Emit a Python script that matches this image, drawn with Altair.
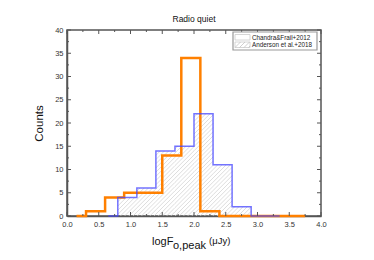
import altair as alt
import pandas as pd
import numpy as np

# ---- data ----
blue_edges = [0.65, 0.8, 1.1, 1.4, 1.7, 2.0, 2.3, 2.6, 2.9, 3.35]
blue_counts = [0, 4, 6, 14, 15, 22, 11, 2, 0]
orange_edges = [0.15, 0.3, 0.6, 0.9, 1.2, 1.5, 1.8, 2.1, 2.4, 2.7, 3.0, 3.3, 3.75]
orange_counts = [0, 1, 4, 5, 5, 13, 34, 1, 0, 0, 0, 0]
x_major = [0.0, 0.5, 1.0, 1.5, 2.0, 2.5, 3.0, 3.5, 4.0]
x_minor = [0.25, 0.75, 1.25, 1.75, 2.25, 2.75, 3.25, 3.75]
y_major = [0, 5, 10, 15, 20, 25, 30, 35, 40]
y_minor = [2.5, 7.5, 12.5, 17.5, 22.5, 27.5, 32.5, 37.5]
legend_labels = ["Chandra&Frail+2012", "Anderson et al.+2018"]

W, H = 254, 186
XMAX, YMAX = 4.0, 40.0
pxx = W / XMAX
pxy = H / YMAX

def step_df(edges, counts):
    return pd.DataFrame({"x": edges, "y": list(counts) + [counts[-1]]})

blue_df = step_df(blue_edges, blue_counts)
orange_df = step_df(orange_edges, orange_counts)

# hatch segments derived from blue histogram
segs = []
spacing = 4.2
cmin = -H
cmax = W + H
for i, h in enumerate(blue_counts):
    if h <= 0:
        continue
    x0, x1 = blue_edges[i], blue_edges[i + 1]
    c = cmin
    while c < cmax:
        ylo = max(0.0, (pxx * x0 - c) / pxy)
        yhi = min(h, (pxx * x1 - c) / pxy)
        if yhi > ylo:
            segs.append({"x": (c + pxy * ylo) / pxx, "y": ylo,
                         "x2": (c + pxy * yhi) / pxx, "y2": yhi})
        c += spacing
hatch_df = pd.DataFrame(segs)

xs = alt.Scale(domain=[0, XMAX], nice=False)
ys = alt.Scale(domain=[0, YMAX], nice=False)

axis_col = "#555555"

xaxis = alt.Axis(values=x_major, format=".1f", title=None, tickSize=0, domainColor=axis_col,
                 domainWidth=1.5, labelFontSize=7.5, labelColor="#333", labelPadding=4,
                 labelOverlap=False, labelFont="Liberation Sans", grid=False)
yaxis = alt.Axis(values=y_major, title="Counts", tickSize=0, domainColor=axis_col, domainWidth=1.5,
                 labelFontSize=7.5, labelColor="#333", labelPadding=4, labelOverlap=False,
                 labelFont="Liberation Sans", grid=False, titleFontSize=11.5,
                 titleFontWeight="normal", titleFont="Liberation Sans", titleColor="#111",
                 titlePadding=10)

hatch = alt.Chart(hatch_df).mark_rule(color="#cfcfcf", strokeWidth=0.7).encode(
    x=alt.X("x:Q", scale=xs, axis=xaxis),
    y=alt.Y("y:Q", scale=ys, axis=yaxis),
    x2="x2:Q", y2="y2:Q",
)

orange = alt.Chart(orange_df).mark_line(interpolate="step-after", color="#ff8000",
                                        strokeWidth=2.5).encode(
    x=alt.X("x:Q", scale=xs, axis=xaxis), y=alt.Y("y:Q", scale=ys, axis=yaxis))
blue = alt.Chart(blue_df).mark_line(interpolate="step-after", color="#4444ff",
                                    strokeWidth=1.5, opacity=0.75).encode(
    x=alt.X("x:Q", scale=xs, axis=xaxis), y=alt.Y("y:Q", scale=ys, axis=yaxis))

def tick_layers():
    layers = []
    xmj = pd.DataFrame({"t": x_major})
    xmn = pd.DataFrame({"t": x_minor})
    ymj = pd.DataFrame({"t": y_major})
    ymn = pd.DataFrame({"t": y_minor})
    for df, L in ((xmj, 4), (xmn, 2)):
        layers.append(alt.Chart(df).mark_rule(color=axis_col, strokeWidth=1).encode(
            x=alt.X("t:Q", scale=xs, axis=xaxis), y=alt.value(H), y2=alt.value(H - L)))
        layers.append(alt.Chart(df).mark_rule(color=axis_col, strokeWidth=1).encode(
            x=alt.X("t:Q", scale=xs, axis=xaxis), y=alt.value(0), y2=alt.value(L)))
    for df, L in ((ymj, 4), (ymn, 2)):
        layers.append(alt.Chart(df).mark_rule(color=axis_col, strokeWidth=1).encode(
            y=alt.Y("t:Q", scale=ys, axis=yaxis), x=alt.value(0), x2=alt.value(L)))
        layers.append(alt.Chart(df).mark_rule(color=axis_col, strokeWidth=1).encode(
            y=alt.Y("t:Q", scale=ys, axis=yaxis), x=alt.value(W), x2=alt.value(W - L)))
    return layers

one = pd.DataFrame({"a": [0]})

def legend_layers():
    layers = []
    bx0, bx1, by0, by1 = 166, 250, 2, 20
    layers.append(alt.Chart(one).mark_rect(fill="white", stroke="#999999", strokeWidth=1.2).encode(
        x=alt.value(bx0), x2=alt.value(bx1), y=alt.value(by0), y2=alt.value(by1)))
    layers.append(alt.Chart(one).mark_rect(fill="white", stroke="#cccccc", strokeWidth=0.8).encode(
        x=alt.value(168), x2=alt.value(183), y=alt.value(4.5), y2=alt.value(10)))
    layers.append(alt.Chart(one).mark_rect(fill="white", stroke="#cccccc", strokeWidth=0.8).encode(
        x=alt.value(168), x2=alt.value(183), y=alt.value(12), y2=alt.value(17.5)))
    for k in range(4):
        xa = 168 + k * 4.5
        xb = min(xa + 5.5, 183)
        layers.append(alt.Chart(one).mark_rule(color="#bbbbbb", strokeWidth=0.7).encode(
            x=alt.value(xa), y=alt.value(17.5), x2=alt.value(xb),
            y2=alt.value(17.5 - (xb - xa))))
    for i, lab in enumerate(legend_labels):
        layers.append(alt.Chart(one).mark_text(text=lab, fontSize=6.3, align="left",
                                               baseline="middle", color="#222",
                                               font="Liberation Sans").encode(
            x=alt.value(185), y=alt.value(7.5 + i * 7.5)))
    return layers

def xlabel_layers():
    f = "Liberation Sans"
    return [
        alt.Chart(one).mark_text(text="logF", fontSize=11, align="left", baseline="alphabetic",
                                 font=f, color="#111").encode(x=alt.value(85), y=alt.value(215)),
        alt.Chart(one).mark_text(text="o,peak", fontSize=11, align="left", baseline="alphabetic",
                                 font=f, color="#111").encode(x=alt.value(106), y=alt.value(219)),
        alt.Chart(one).mark_text(text="(\u03bcJy)", fontSize=9.5, align="left", baseline="alphabetic",
                                 font=f, color="#111").encode(x=alt.value(142), y=alt.value(214)),
    ]

chart = alt.layer(hatch, orange, blue, *tick_layers(), *legend_layers(), *xlabel_layers()).properties(
    width=W, height=H,
    title=alt.TitleParams("Radio quiet", fontSize=8.5, fontWeight="normal", font="Liberation Sans",
                          color="#111", offset=3),
    autosize=alt.AutoSizeParams(type="none"),
    padding={"left": 59, "top": 22, "right": 45, "bottom": 36},
).configure_view(stroke=axis_col, strokeWidth=1.5).configure_axis(labelFlush=False, labelOverlap=False)

chart.save("out.html", embed_options={"renderer": "svg", "actions": False})
